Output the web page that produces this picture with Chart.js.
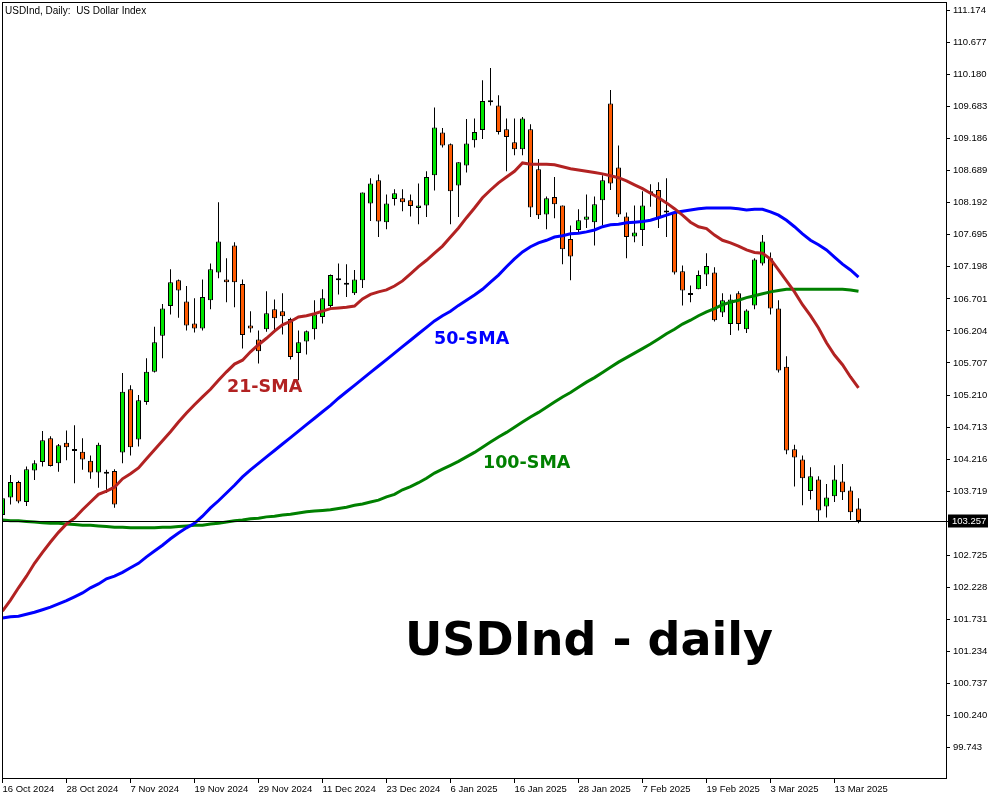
<!DOCTYPE html>
<html>
<head>
<meta charset="utf-8">
<script src="https://cdn.jsdelivr.net/npm/chart.js@4.4.1/dist/chart.umd.min.js"></script>
<style>
html, body { margin: 0; padding: 0; background: #fff; }
#wrap { width: 1000px; height: 800px; }
</style>
</head>
<body>
<div id="wrap"><canvas id="chartUSD" width="1000" height="800"></canvas></div>
<script>
// daily bars, 16 Oct 2024 .. 18 Mar 2025
const opens = [
  103.35, 103.62, 103.86, 103.55, 104.04, 104.17, 104.54, 104.15, 104.47, 104.35,
  104.33, 104.19, 104.01, 104.00, 104.03, 104.32, 105.30, 104.52, 105.10, 105.57,
  106.13, 106.59, 106.99, 106.66, 106.32, 106.24, 106.68, 107.11, 107.00, 107.53,
  106.93, 106.29, 106.07, 106.23, 106.54, 106.51, 106.39, 105.86, 106.04, 106.23,
  106.42, 106.59, 107.00, 106.93, 106.79, 106.99, 108.18, 108.54, 107.89, 108.25,
  108.26, 108.23, 108.11, 108.15, 108.62, 109.28, 109.10, 108.46, 108.77, 109.16,
  109.32, 109.76, 109.70, 109.33, 109.13, 109.02, 109.33, 108.71, 108.01, 108.28,
  108.15, 107.63, 107.77, 107.93, 107.89, 108.23, 109.73, 108.74, 107.98, 107.67,
  107.77, 108.37, 108.39, 108.05, 108.04, 107.13, 106.77, 106.85, 107.08, 107.11,
  106.49, 106.31, 106.79, 106.23, 106.60, 107.25, 107.33, 106.55, 105.65, 104.37,
  104.21, 103.72, 103.90, 103.48, 103.64, 103.87, 103.73, 103.45
];
const highs = [
  103.67, 103.97, 103.88, 104.10, 104.20, 104.65, 104.57, 104.45, 104.66, 104.74,
  104.54, 104.27, 104.47, 104.05, 104.06, 105.55, 105.36, 105.21, 105.78, 106.27,
  106.62, 107.16, 107.00, 106.90, 106.71, 107.00, 107.25, 108.20, 107.33, 107.58,
  107.00, 106.51, 106.21, 106.82, 106.69, 106.79, 106.41, 106.21, 106.21, 106.68,
  106.85, 107.08, 107.25, 107.24, 107.15, 108.35, 108.57, 108.63, 108.32, 108.40,
  108.40, 108.32, 108.49, 108.68, 109.67, 109.35, 109.11, 108.82, 109.49, 109.50,
  110.09, 110.28, 109.86, 109.50, 109.50, 109.52, 109.41, 108.87, 108.29, 108.59,
  108.15, 107.84, 108.09, 108.32, 108.29, 108.62, 109.94, 109.08, 108.04, 108.15,
  108.37, 108.48, 108.51, 108.57, 108.04, 107.22, 106.91, 107.14, 107.41, 107.19,
  106.79, 106.77, 106.82, 106.54, 107.33, 107.69, 107.42, 106.68, 105.81, 104.44,
  104.27, 104.09, 103.95, 103.83, 104.12, 104.14, 103.79, 103.61
];
const lows = [
  103.30, 103.51, 103.53, 103.49, 103.89, 104.10, 104.10, 104.02, 104.20, 103.84,
  104.05, 103.91, 103.77, 103.69, 103.46, 104.15, 104.27, 104.41, 105.06, 105.56,
  105.78, 106.46, 106.41, 106.21, 106.18, 106.21, 106.54, 107.02, 106.65, 106.57,
  105.93, 106.18, 105.70, 106.19, 106.19, 106.15, 105.76, 105.44, 105.84, 106.07,
  106.32, 106.55, 106.77, 106.73, 106.76, 106.87, 107.91, 107.66, 107.78, 108.15,
  108.06, 107.98, 107.86, 107.97, 108.38, 109.05, 107.86, 107.97, 108.66, 109.05,
  109.18, 109.70, 109.25, 108.68, 108.93, 108.93, 107.97, 107.94, 107.78, 107.95,
  107.24, 106.99, 107.72, 107.80, 107.53, 107.84, 108.39, 107.97, 107.33, 107.58,
  107.52, 108.13, 107.80, 107.66, 107.08, 106.60, 106.65, 106.85, 106.90, 106.35,
  106.42, 106.14, 106.21, 106.17, 106.54, 107.22, 106.46, 105.56, 104.29, 103.79,
  103.50, 103.59, 103.25, 103.31, 103.55, 103.58, 103.27, 103.22
];
const closes = [
  103.61, 103.86, 103.56, 104.06, 104.15, 104.51, 104.11, 104.43, 104.40, 104.34,
  104.21, 104.01, 104.44, 103.99, 103.51, 105.26, 104.40, 105.13, 105.57, 106.03,
  106.55, 106.96, 106.83, 106.29, 106.24, 106.73, 107.16, 107.59, 106.96, 106.96,
  106.14, 106.24, 105.89, 106.48, 106.40, 106.43, 105.80, 106.03, 106.20, 106.46,
  106.71, 107.07, 106.99, 106.92, 107.00, 108.35, 108.49, 107.90, 108.18, 108.34,
  108.20, 108.14, 108.15, 108.59, 109.36, 109.08, 108.37, 108.82, 109.11, 109.29,
  109.77, 109.75, 109.29, 109.21, 109.02, 109.50, 108.12, 108.00, 108.26, 108.17,
  107.47, 107.36, 107.92, 107.98, 108.17, 108.54, 108.49, 108.01, 107.66, 107.73,
  108.15, 108.34, 107.95, 108.04, 107.11, 106.83, 106.76, 107.07, 107.21, 106.37,
  106.68, 106.69, 106.31, 106.52, 107.31, 107.59, 106.55, 105.59, 104.35, 104.24,
  103.92, 103.95, 103.42, 103.62, 103.90, 103.70, 103.39, 103.257
];
const sma21 = [
  101.86, 102.03, 102.22, 102.40, 102.60, 102.77, 102.93, 103.08, 103.21, 103.30,
  103.43, 103.55, 103.67, 103.72, 103.78, 103.91, 103.99, 104.08, 104.22, 104.36,
  104.50, 104.64, 104.79, 104.93, 105.06, 105.18, 105.30, 105.44, 105.57, 105.69,
  105.75, 105.88, 105.99, 106.09, 106.20, 106.30, 106.35, 106.42, 106.44, 106.47,
  106.51, 106.55, 106.56, 106.57, 106.59, 106.70, 106.77, 106.81, 106.84, 106.90,
  106.98, 107.09, 107.20, 107.30, 107.41, 107.52, 107.66, 107.80, 107.96, 108.11,
  108.27, 108.39, 108.50, 108.59, 108.68, 108.81, 108.79, 108.79, 108.79, 108.78,
  108.75, 108.72, 108.70, 108.68, 108.66, 108.64, 108.61, 108.58, 108.53, 108.47,
  108.41, 108.34, 108.27, 108.19, 108.10, 108.00, 107.89, 107.82, 107.79, 107.69,
  107.61, 107.57, 107.52, 107.46, 107.42, 107.41, 107.32, 107.15, 106.98, 106.81,
  106.61, 106.44, 106.25, 106.02, 105.83, 105.68, 105.49, 105.32
];
const sma50 = [
  101.75, 101.77, 101.78, 101.81, 101.84, 101.88, 101.92, 101.97, 102.02, 102.08,
  102.14, 102.22, 102.28, 102.36, 102.40, 102.46, 102.53, 102.60, 102.70, 102.79,
  102.88, 102.98, 103.07, 103.15, 103.22, 103.33, 103.46, 103.57, 103.69, 103.81,
  103.94, 104.05, 104.15, 104.25, 104.35, 104.45, 104.55, 104.65, 104.75, 104.85,
  104.95, 105.05, 105.16, 105.26, 105.36, 105.46, 105.56, 105.66, 105.76, 105.86,
  105.96, 106.06, 106.16, 106.26, 106.36, 106.44, 106.51, 106.60, 106.68, 106.76,
  106.85, 106.96, 107.07, 107.20, 107.32, 107.43, 107.51, 107.57, 107.61, 107.66,
  107.68, 107.71, 107.72, 107.74, 107.77, 107.82, 107.85, 107.86, 107.88, 107.89,
  107.90, 107.92, 107.96, 108.00, 108.04, 108.06, 108.08, 108.10, 108.11, 108.11,
  108.11, 108.11, 108.10, 108.08, 108.09, 108.09, 108.05, 108.00, 107.92, 107.82,
  107.71, 107.61, 107.54, 107.46, 107.35, 107.24, 107.15, 107.04
];
const sma100 = [
  103.27, 103.26, 103.26, 103.25, 103.24, 103.23, 103.22, 103.22, 103.21, 103.20,
  103.19, 103.19, 103.18, 103.17, 103.16, 103.16, 103.15, 103.15, 103.15, 103.15,
  103.16, 103.16, 103.17, 103.18, 103.19, 103.19, 103.21, 103.22, 103.24, 103.26,
  103.27, 103.29, 103.30, 103.32, 103.33, 103.35, 103.36, 103.38, 103.40, 103.41,
  103.42, 103.43, 103.45, 103.47, 103.50, 103.52, 103.55, 103.58, 103.63, 103.67,
  103.74, 103.79, 103.85, 103.92, 104.00, 104.06, 104.12, 104.18, 104.25, 104.32,
  104.40, 104.48, 104.56, 104.63, 104.71, 104.79, 104.87, 104.94, 105.02, 105.10,
  105.18, 105.25, 105.33, 105.41, 105.48, 105.56, 105.64, 105.72, 105.79, 105.86,
  105.93, 106.00, 106.08, 106.16, 106.23, 106.31, 106.37, 106.44, 106.50, 106.55,
  106.61, 106.65, 106.68, 106.72, 106.75, 106.78, 106.81, 106.83, 106.85, 106.85,
  106.85, 106.85, 106.85, 106.85, 106.85, 106.85, 106.84, 106.82
];
const dateTicks = [0, 8, 16, 24, 32, 40, 48, 56, 64, 72, 80, 88, 96, 104];
const dateLabels = [
  '16 Oct 2024', '28 Oct 2024', '7 Nov 2024', '19 Nov 2024', '29 Nov 2024',
  '11 Dec 2024', '23 Dec 2024', '6 Jan 2025', '16 Jan 2025', '28 Jan 2025',
  '7 Feb 2025', '19 Feb 2025', '3 Mar 2025', '13 Mar 2025'
];
const priceTicks = [
  111.174, 110.677, 110.180, 109.683, 109.186, 108.689, 108.192, 107.695,
  107.198, 106.701, 106.204, 105.707, 105.210, 104.713, 104.216, 103.719,
  102.725, 102.228, 101.731, 101.234, 100.737, 100.240, 99.743
];

const bullColor = '#00e600';
const bearColor = '#ff5a00';
const axisFont = { family: 'Liberation Sans', size: 9.5 };

const idx = closes.map((c, i) => i);
const wickData = idx.map(i => ({ x: i, y: [lows[i], highs[i]] }));
const bodyData = idx.map(i => ({ x: i, y: [opens[i], closes[i]] }));
const bodyColors = idx.map(i => closes[i] >= opens[i] ? bullColor : bearColor);
const lineData = arr => arr.map((v, i) => ({ x: i, y: v }));

const overlay = {
  id: 'overlay',
  afterDatasetsDraw(chart) {
    const { ctx, chartArea: a, scales: { y } } = chart;
    const last = closes[closes.length - 1];
    const py = Math.round(y.getPixelForValue(last)) + 0.5;
    ctx.save();
    ctx.strokeStyle = '#000';
    ctx.lineWidth = 1;
    ctx.beginPath();
    ctx.moveTo(a.left, py);
    ctx.lineTo(a.right + 2, py);
    ctx.stroke();
    ctx.strokeRect(a.left + 0.5, a.top - 0.5, a.right - a.left, a.bottom - a.top + 1);
    ctx.fillStyle = '#000';
    ctx.fillRect(a.right + 2, py - 7, 40, 13);
    ctx.fillStyle = '#fff';
    ctx.font = '9.5px "Liberation Sans"';
    ctx.textBaseline = 'middle';
    ctx.fillText(last.toFixed(3), a.right + 6, py);
    ctx.restore();
  },
  afterDraw(chart) {
    const ctx = chart.ctx;
    ctx.save();
    ctx.textBaseline = 'alphabetic';
    ctx.fillStyle = '#000';
    ctx.font = '10px "Liberation Sans"';
    ctx.fillText('USDInd, Daily:  US Dollar Index', 5, 13.5);
    ctx.font = 'bold 17.5px "DejaVu Sans"';
    ctx.fillStyle = '#b22222';
    ctx.fillText('21-SMA', 227, 392);
    ctx.fillStyle = '#0000ff';
    ctx.fillText('50-SMA', 434, 344);
    ctx.fillStyle = '#008000';
    ctx.fillText('100-SMA', 483, 468);
    ctx.font = 'bold 46px "DejaVu Sans"';
    ctx.fillStyle = '#000';
    ctx.fillText('USDInd - daily', 405, 655);
    ctx.restore();
  }
};

const ctx = document.getElementById('chartUSD').getContext('2d');
const chart = new Chart(ctx, {
  type: 'bar',
  data: {
    datasets: [
      { type: 'line', data: lineData(sma21), borderColor: '#b22222', borderWidth: 3, pointRadius: 0, order: 0 },
      { type: 'line', data: lineData(sma50), borderColor: '#0000ff', borderWidth: 3, pointRadius: 0, order: 0 },
      { type: 'line', data: lineData(sma100), borderColor: '#008000', borderWidth: 3, pointRadius: 0, order: 0 },
      {
        data: bodyData, backgroundColor: bodyColors, borderColor: '#000', borderWidth: 1,
        borderSkipped: false, barThickness: 5, grouped: false, minBarLength: 2,
        inflateAmount: 0, order: 1
      },
      {
        data: wickData, backgroundColor: '#000', borderWidth: 0, barThickness: 1,
        grouped: false, inflateAmount: 0, order: 2
      }
    ]
  },
  options: {
    responsive: false,
    animation: false,
    devicePixelRatio: 1,
    layout: { padding: { left: 2, top: 3, right: 0, bottom: 0 } },
    plugins: { legend: { display: false }, tooltip: { enabled: false } },
    scales: {
      x: {
        type: 'linear',
        min: -0.0625,
        max: 117.9375,
        offset: false,
        grid: { offset: false, drawOnChartArea: false, drawTicks: true, tickLength: 5, color: '#000' },
        border: { display: false },
        ticks: {
          font: axisFont, color: '#000', align: 'start', padding: 1,
          autoSkip: false, maxRotation: 0,
          callback: v => dateLabels[dateTicks.indexOf(v)] ?? ''
        },
        afterBuildTicks: s => { s.ticks = dateTicks.map(v => ({ value: v })); },
        afterFit: s => { s.height = 22; s.paddingLeft = 0; s.paddingRight = 0; }
      },
      y: {
        type: 'linear',
        position: 'right',
        min: 99.270,
        max: 111.290,
        grid: { drawOnChartArea: false, drawTicks: true, tickLength: 4, color: '#000' },
        border: { display: false },
        ticks: {
          font: axisFont, color: '#000', padding: 3, autoSkip: false,
          callback: v => v.toFixed(3)
        },
        afterBuildTicks: s => { s.ticks = priceTicks.map(v => ({ value: v })); },
        afterFit: s => { s.width = 54; s.paddingTop = 0; s.paddingBottom = 0; }
      }
    }
  },
  plugins: [overlay]
});
</script>
</body>
</html>
